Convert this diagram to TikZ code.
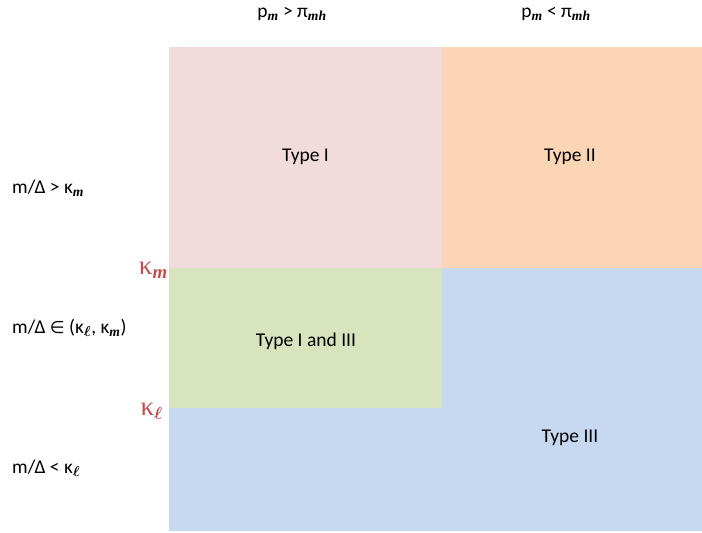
\documentclass[tikz,border=0pt]{standalone}
\usepackage{bm}
\usepackage{fontspec}
\setmainfont{Carlito}
\newfontfamily\serifgreek{Liberation Serif}
\newfontfamily\symfont{DejaVu Sans}
\definecolor{cellpink}{HTML}{F2DCDB}
\definecolor{cellorange}{HTML}{FCD5B5}
\definecolor{cellgreen}{HTML}{D7E4BD}
\definecolor{cellblue}{HTML}{C6D9F1}
\definecolor{kappared}{HTML}{C0504D}
\newcommand{\subm}{\textsubscript{\serifgreek\bfseries\itshape m}}
\newcommand{\submh}{\textsubscript{\serifgreek\bfseries\itshape mh}}
\newcommand{\subl}{\textsubscript{$\bm{\ell}$}}
\begin{document}
\begin{tikzpicture}[x=1pt,y=-1pt,
  celltext/.style={font=\fontsize{19.5}{23}\selectfont, text=black},
  rowlabel/.style={font=\fontsize{19.5}{23}\selectfont, anchor=west, inner sep=0pt},
  collabel/.style={font=\fontsize{19.5}{23}\selectfont, inner sep=0pt},
  kappalabel/.style={font=\serifgreek\fontsize{27}{30}\selectfont, text=kappared, inner sep=0pt}]
  \useasboundingbox (0,0) rectangle (702,533);
  % regions
  \fill[cellblue] (169,268) rectangle (702,531);
  \fill[cellpink] (169,47) rectangle (442,268);
  \fill[cellorange] (442,47) rectangle (702,268);
  \fill[cellgreen] (169,268) rectangle (442,408);
  % cell labels
  \node[celltext] (t1) at (305.5,157) {Type I};
  \node[celltext] (t2) at (570,157) {Type II};
  \node[celltext] (t13) at (306,341) {Type I and III};
  \node[celltext] (t3) at (570,438) {Type III};
  % column headings
  \node[collabel] (c1) at (292,14) {p\subm{} > π\submh};
  \node[collabel] (c2) at (556,14) {p\subm{} < π\submh};
  % row headings
  \node[rowlabel] (r1) at (12,188) {m/Δ > κ\subm};
  \node[rowlabel] (r2) at (12,328) {m/Δ {\symfont\fontsize{17}{20}\selectfont ∈} (κ\subl, κ\subm)};
  \node[rowlabel] (r3) at (12,468) {m/Δ < κ\subl};
  % thresholds on the axis
  \node[kappalabel, anchor=east] (km) at (168,270) {κ\textsubscript{\bfseries\itshape m}};
  \node[kappalabel, anchor=east] (kl) at (163,411) {κ\textsubscript{$\bm{\ell}$}};
\end{tikzpicture}
\end{document}
